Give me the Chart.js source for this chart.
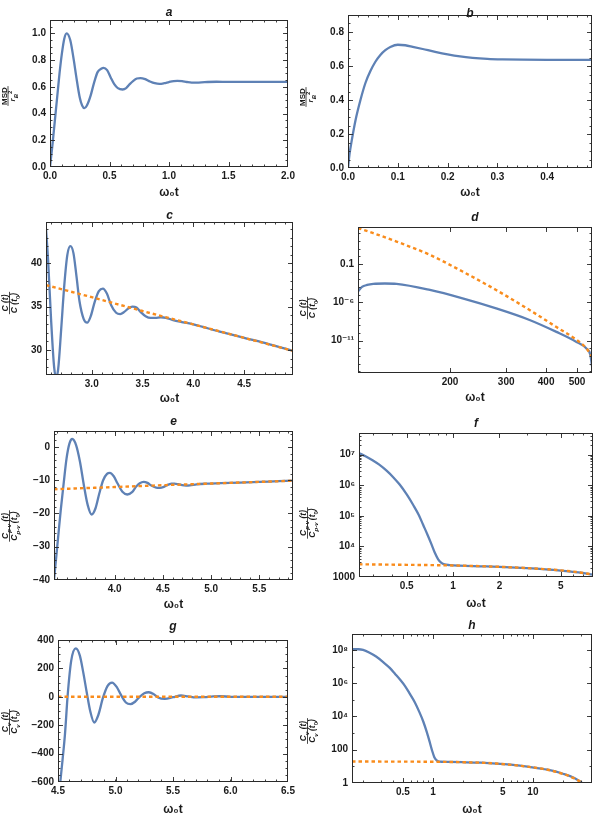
<!DOCTYPE html>
<html>
<head>
<meta charset="utf-8">
<script src="https://cdn.jsdelivr.net/npm/chart.js@4.4.1/dist/chart.umd.min.js"></script>
<style>
  html, body { margin: 0; padding: 0; background: #fff; }
  #fig { position: relative; width: 596px; height: 819px; overflow: hidden; }
  #fig canvas { position: absolute; }
</style>
</head>
<body>
<div id="fig"></div>
<script>
// ---- Data ----
// a: MSD, long range
const aT   = [0, 0.02, 0.04, 0.06, 0.08, 0.10, 0.12, 0.14, 0.17, 0.20, 0.22, 0.25, 0.27, 0.29, 0.31, 0.34, 0.37, 0.40, 0.43, 0.45, 0.48, 0.51, 0.54, 0.57, 0.61, 0.64, 0.67, 0.70, 0.73, 0.76, 0.80, 0.84, 0.88, 0.92, 0.96, 1.00, 1.04, 1.07, 1.11, 1.15, 1.19, 1.23, 1.30, 1.40, 1.50, 1.70, 2.00];
const aMsd = [0, 0.16, 0.34, 0.52, 0.70, 0.85, 0.96, 1.00, 0.95, 0.80, 0.68, 0.52, 0.46, 0.44, 0.46, 0.53, 0.63, 0.71, 0.735, 0.742, 0.725, 0.67, 0.62, 0.59, 0.58, 0.59, 0.62, 0.645, 0.662, 0.665, 0.657, 0.64, 0.627, 0.622, 0.627, 0.636, 0.643, 0.645, 0.642, 0.636, 0.632, 0.632, 0.635, 0.638, 0.637, 0.637, 0.637];

// b: MSD, overdamped
const bT   = [0, 0.003, 0.008, 0.015, 0.025, 0.035, 0.045, 0.055, 0.065, 0.075, 0.085, 0.1, 0.115, 0.13, 0.15, 0.175, 0.2, 0.225, 0.25, 0.28, 0.31, 0.35, 0.4, 0.45, 0.49];
const bMsd = [0, 0.08, 0.17, 0.28, 0.4, 0.5, 0.57, 0.625, 0.665, 0.693, 0.712, 0.725, 0.722, 0.713, 0.7, 0.683, 0.668, 0.656, 0.648, 0.642, 0.639, 0.637, 0.636, 0.636, 0.636];

// c: C(t)/C(t0) + asymptote
const cT    = [2.55, 2.57, 2.6, 2.63, 2.65, 2.67, 2.7, 2.73, 2.76, 2.79, 2.82, 2.85, 2.88, 2.92, 2.955, 2.99, 3.03, 3.07, 3.11, 3.15, 3.19, 3.24, 3.28, 3.32, 3.36, 3.4, 3.44, 3.48, 3.53, 3.58, 3.63, 3.68, 3.73, 3.8, 3.9, 4.0, 4.25, 4.5, 4.75, 4.98];
const cC    = [44, 40.5, 33.5, 28, 26.8, 27.8, 32.5, 37.5, 41, 42, 41.2, 38.5, 35.6, 33.6, 33.15, 33.9, 35.6, 36.8, 37.1, 36.5, 35.2, 34.3, 34.15, 34.4, 34.8, 35.0, 34.9, 34.4, 33.9, 33.7, 33.72, 33.78, 33.72, 33.45, 33.2, 32.95, 32.15, 31.4, 30.65, 29.9];
const cFitT = [2.55, 3.0, 3.5, 4.0, 4.5, 4.98];
const cFit  = [37.5, 36.1, 34.5, 32.95, 31.4, 29.9];

// d: C(t)/C(t0), log-log
const dT    = [103, 106, 110, 115, 125, 136, 173, 219, 279, 355, 431, 498, 535, 550, 557];
const dC    = [2.5e-5, 1e-4, 1.8e-4, 2.5e-4, 2.8e-4, 2.5e-4, 4e-5, 3.2e-6, 1.6e-7, 5e-9, 1.4e-10, 7e-12, 1e-12, 1.6e-13, 5e-15];
const dFitT = [103, 115, 136, 173, 219, 279, 355, 431, 498, 535, 557];
const dFit  = [4.5e3, 1e3, 80, 1.5, 1e-2, 4e-5, 1e-7, 6e-10, 1.3e-11, 1e-12, 8e-14];

// e: C_{p-v}(t)/C_{p-v}(t0)
const eT    = [3.37, 3.39, 3.41, 3.44, 3.47, 3.50, 3.53, 3.56, 3.60, 3.64, 3.68, 3.72, 3.76, 3.80, 3.84, 3.88, 3.92, 3.95, 3.99, 4.03, 4.08, 4.13, 4.18, 4.22, 4.26, 4.30, 4.34, 4.38, 4.43, 4.47, 4.51, 4.55, 4.59, 4.62, 4.66, 4.70, 4.74, 4.78, 4.85, 4.95, 5.10, 5.30, 5.50, 5.70, 5.85];
const eC    = [-40, -34, -28, -19, -11, -3.5, 1, 2.4, 0.5, -4.5, -11.5, -17.5, -20.3, -18.5, -14, -10, -8.1, -7.8, -8.8, -11, -13.5, -14.3, -13.6, -12, -10.9, -10.5, -10.8, -11.6, -12.2, -12.3, -12.0, -11.4, -11.05, -11.0, -11.2, -11.5, -11.6, -11.55, -11.25, -11.05, -10.9, -10.7, -10.5, -10.3, -10.15];
const eFitT = [3.37, 4.0, 4.5, 5.0, 5.5, 5.85];
const eFit  = [-12.7, -12.05, -11.5, -11.0, -10.5, -10.15];

// f: C_{p-v}, log-log
const fT    = [0.245, 0.27, 0.3, 0.33, 0.37, 0.41, 0.45, 0.5, 0.55, 0.6, 0.64, 0.68, 0.72, 0.76, 0.8, 0.84, 0.88, 0.95, 1.1, 1.5, 2, 3, 4, 5, 6.5, 8.1];
const fC    = [1.12e7, 8.9e6, 6.6e6, 4.8e6, 3e6, 1.8e6, 1.05e6, 5e5, 2.3e5, 1.05e5, 5e4, 2.5e4, 1.26e4, 6.3e3, 3.8e3, 2.9e3, 2.57e3, 2.45e3, 2.35e3, 2.24e3, 2.14e3, 1.95e3, 1.78e3, 1.62e3, 1.41e3, 1.2e3];
const fFitT = [0.245, 0.5, 1, 2, 3, 5, 6.5, 8.1];
const fFit  = [2.6e3, 2.5e3, 2.38e3, 2.15e3, 1.96e3, 1.65e3, 1.43e3, 1.2e3];

// g: C_v(t)/C_v(t0)
const gT    = [4.51, 4.52, 4.54, 4.56, 4.585, 4.615, 4.655, 4.69, 4.72, 4.75, 4.78, 4.815, 4.85, 4.89, 4.93, 4.97, 5.01, 5.05, 5.09, 5.13, 5.17, 5.21, 5.25, 5.29, 5.33, 5.37, 5.43, 5.5, 5.57, 5.63, 5.7, 5.77, 5.85, 5.92, 6.0, 6.2, 6.5];
const gC    = [-680, -600, -440, -270, 20, 255, 341, 290, 170, 30, -100, -181, -130, -10, 75, 100, 70, 10, -40, -52, -35, 0, 25, 32, 20, -5, -15, -3, 9, 3, -4, -3, 3, 4, 0, 0, 0];
const gFitT = [4.5, 5.5, 6.5];
const gFit  = [0, 0, 0];

// h: C_v, log-log
const hT    = [0.155, 0.18, 0.2, 0.23, 0.27, 0.32, 0.37, 0.42, 0.47, 0.53, 0.59, 0.66, 0.73, 0.8, 0.87, 0.93, 0.98, 1.03, 1.08, 1.13, 1.2, 1.4, 2, 3, 4.3, 6, 9.2, 14, 20, 26, 31, 34];
const hC    = [1.1e8, 1.1e8, 1e8, 7e7, 4e7, 1.8e7, 8.3e6, 3.5e6, 1.6e6, 6.3e5, 2.2e5, 7e4, 1.9e4, 5e3, 1.1e3, 280, 90, 37, 24, 20, 19, 18.6, 17.8, 16.6, 14.8, 12.6, 9.3, 6.3, 3.6, 2, 1, 0.63];
const hFitT = [0.155, 0.5, 1, 2, 4.3, 9.2, 14, 20, 26, 31, 36];
const hFit  = [19.5, 19.3, 18.9, 17.8, 14.8, 9.3, 6.3, 3.5, 1.9, 1.05, 0.6];

// ---- Tick values / labels ----
const aXTicks = [0, 0.5, 1, 1.5, 2],          aXLabels = ['0.0', '0.5', '1.0', '1.5', '2.0'];
const aYTicks = [0, 0.2, 0.4, 0.6, 0.8, 1.0], aYLabels = ['0.0', '0.2', '0.4', '0.6', '0.8', '1.0'];
const bXTicks = [0, 0.1, 0.2, 0.3, 0.4],      bXLabels = ['0.0', '0.1', '0.2', '0.3', '0.4'];
const bYTicks = [0, 0.2, 0.4, 0.6, 0.8],      bYLabels = ['0.0', '0.2', '0.4', '0.6', '0.8'];
const cXTicks = [3, 3.5, 4, 4.5],             cXLabels = ['3.0', '3.5', '4.0', '4.5'];
const cYTicks = [30, 35, 40],                 cYLabels = ['30', '35', '40'];
const dXTicks = [200, 300, 400, 500],         dXLabels = ['200', '300', '400', '500'];
const dYTicks = [0.1, 1e-6, 1e-11],           dYLabels = ['0.1', '10⁻⁶', '10⁻¹¹'];
const eXTicks = [4, 4.5, 5, 5.5],             eXLabels = ['4.0', '4.5', '5.0', '5.5'];
const eYTicks = [0, -10, -20, -30, -40],      eYLabels = ['0', '−10', '−20', '−30', '−40'];
const fXTicks = [0.5, 1, 2, 5],               fXLabels = ['0.5', '1', '2', '5'];
const fYTicks = [1e3, 1e4, 1e5, 1e6, 1e7],    fYLabels = ['1000', '10⁴', '10⁵', '10⁶', '10⁷'];
const gXTicks = [4.5, 5, 5.5, 6, 6.5],        gXLabels = ['4.5', '5.0', '5.5', '6.0', '6.5'];
const gYTicks = [400, 200, 0, -200, -400, -600], gYLabels = ['400', '200', '0', '−200', '−400', '−600'];
const hXTicks = [0.5, 1, 5, 10],              hXLabels = ['0.5', '1', '5', '10'];
const hYTicks = [1, 100, 1e4, 1e6, 1e8],      hYLabels = ['1', '100', '10⁴', '10⁶', '10⁸'];

// ---- Style ----
const BLUE   = '#5e81b5';
const ORANGE = '#f98c1c';
const INK    = '#1a1a1a';
const FRAME  = '#2a2a2a';
const FONT   = '"Liberation Sans", Arial, "DejaVu Sans", sans-serif';
const ROWS   = [0, 205, 410, 615, 819];

// y-axis fraction labels
const lblMSD = { num: [{ t: 'MSD' }], den: [{ t: 'r', it: 1 }, { t: 'B', sub: 1, it: 1 }, { t: '2', sup: 1 }], size: 8 };
const lblC   = { num: [{ t: 'C (t)', it: 1 }], den: [{ t: 'C (t', it: 1 }, { t: '0', sub: 1 }, { t: ')', it: 1 }], size: 8.5 };
const lblCpv = { num: [{ t: 'C', it: 1 }, { t: 'p-v', sub: 1, it: 1 }, { t: ' (t)', it: 1 }],
                 den: [{ t: 'C', it: 1 }, { t: 'p-v', sub: 1, it: 1 }, { t: ' (t', it: 1 }, { t: '0', sub: 1 }, { t: ')', it: 1 }], size: 8.5 };
const lblCv  = { num: [{ t: 'C', it: 1 }, { t: 'v', sub: 1, it: 1 }, { t: ' (t)', it: 1 }],
                 den: [{ t: 'C', it: 1 }, { t: 'v', sub: 1, it: 1 }, { t: ' (t', it: 1 }, { t: '0', sub: 1 }, { t: ')', it: 1 }], size: 8.5 };

const panels = [
  { letter: 'a', col: 0, row: 0, box: { L: 50, R: 288, T: 20, B: 167 }, titleY: 13, xTitleY: 193, lab: lblMSD, labPos: [8, 96],
    x: { type: 'linear', min: 0, max: 2, ticks: aXTicks, labels: aXLabels, minor: 0.1 },
    y: { type: 'linear', min: 0, max: 1.1, ticks: aYTicks, labels: aYLabels, minor: 0.05 },
    series: [{ x: aT, y: aMsd }] },
  { letter: 'b', col: 1, row: 0, box: { L: 348, R: 592, T: 15, B: 168 }, titleY: 14, xTitleY: 193, lab: lblMSD, labPos: [306, 97],
    x: { type: 'linear', min: 0, max: 0.49, ticks: bXTicks, labels: bXLabels, minor: 0.02 },
    y: { type: 'linear', min: 0, max: 0.9, ticks: bYTicks, labels: bYLabels, minor: 0.05 },
    series: [{ x: bT, y: bMsd }] },
  { letter: 'c', col: 0, row: 1, box: { L: 46, R: 293, T: 222, B: 375 }, titleY: 216, xTitleY: 399, lab: lblC, labPos: [9.5, 303],
    x: { type: 'linear', min: 2.55, max: 4.98, ticks: cXTicks, labels: cXLabels, minor: 0.1 },
    y: { type: 'linear', min: 27.1, max: 44.8, ticks: cYTicks, labels: cYLabels, minor: 1 },
    series: [{ x: cFitT, y: cFit, dashed: true }, { x: cT, y: cC }] },
  { letter: 'd', col: 1, row: 1, box: { L: 358, R: 592, T: 227, B: 373 }, titleY: 218, xTitleY: 398, lab: lblC, labPos: [307.5, 308],
    x: { type: 'logarithmic', min: 103, max: 557, ticks: dXTicks, labels: dXLabels, minor: 'log' },
    y: { type: 'logarithmic', min: 6.3e-16, max: 6.3e3, ticks: dYTicks, labels: dYLabels, minor: 'decade' },
    series: [{ x: dFitT, y: dFit, dashed: true }, { x: dT, y: dC }] },
  { letter: 'e', col: 0, row: 2, box: { L: 54, R: 293, T: 431, B: 580 }, titleY: 422, xTitleY: 605, lab: lblCpv, labPos: [9.5, 526],
    x: { type: 'linear', min: 3.37, max: 5.85, ticks: eXTicks, labels: eXLabels, minor: 0.1 },
    y: { type: 'linear', min: -40, max: 4.8, ticks: eYTicks, labels: eYLabels, minor: 2 },
    series: [{ x: eFitT, y: eFit, dashed: true }, { x: eT, y: eC }] },
  { letter: 'f', col: 1, row: 2, box: { L: 359, R: 593, T: 433, B: 577 }, titleY: 424, xTitleY: 604, lab: lblCpv, labPos: [307.5, 523],
    x: { type: 'logarithmic', min: 0.245, max: 8.1, ticks: fXTicks, labels: fXLabels, minor: 'log' },
    y: { type: 'logarithmic', min: 1000, max: 5.1e7, ticks: fYTicks, labels: fYLabels, minor: 'log' },
    series: [{ x: fFitT, y: fFit, dashed: true }, { x: fT, y: fC }] },
  { letter: 'g', col: 0, row: 3, box: { L: 58, R: 288, T: 640, B: 782 }, titleY: 627, xTitleY: 810, lab: lblCv, labPos: [9.5, 722],
    x: { type: 'linear', min: 4.5, max: 6.5, ticks: gXTicks, labels: gXLabels, minor: 0.1 },
    y: { type: 'linear', min: -600, max: 400, ticks: gYTicks, labels: gYLabels, minor: 50 },
    series: [{ x: gFitT, y: gFit, dashed: true }, { x: gT, y: gC }] },
  { letter: 'h', col: 1, row: 3, box: { L: 352, R: 592, T: 634, B: 783 }, titleY: 626, xTitleY: 810, lab: lblCv, labPos: [307.5, 731],
    x: { type: 'logarithmic', min: 0.155, max: 39, ticks: hXTicks, labels: hXLabels, minor: 'log' },
    y: { type: 'logarithmic', min: 1, max: 9.1e8, ticks: hYTicks, labels: hYLabels, minor: 'decade' },
    series: [{ x: hFitT, y: hFit, dashed: true }, { x: hT, y: hC }] },
];

// ---- helpers ----
function minorValues(ax) {
  const out = [];
  if (ax.minor === 'log' || ax.minor === 'decade') {
    const d0 = Math.floor(Math.log10(ax.min)), d1 = Math.ceil(Math.log10(ax.max));
    for (let d = d0; d <= d1; d++) {
      const ms = ax.minor === 'log' ? [1, 2, 3, 4, 5, 6, 7, 8, 9] : [1];
      ms.forEach(m => { const v = m * Math.pow(10, d); if (v >= ax.min && v <= ax.max) out.push(v); });
    }
  } else {
    const st = ax.minor;
    for (let v = Math.ceil(ax.min / st - 1e-9) * st; v <= ax.max + 1e-9; v += st) out.push(v);
  }
  return out;
}

function runFont(r, size) {
  const s = (r.sub || r.sup) ? Math.round(size * 0.72) : size;
  return (r.it ? 'italic ' : '') + 'bold ' + s + 'px ' + FONT;
}
function runsWidth(ctx, runs, size) {
  return runs.reduce((w, r) => { ctx.font = runFont(r, size); return w + ctx.measureText(r.t).width; }, 0);
}
function drawRuns(ctx, runs, x, y, size) {
  let cx = x;
  runs.forEach(r => {
    ctx.font = runFont(r, size);
    const dy = r.sub ? size * 0.3 : r.sup ? -size * 0.42 : 0;
    ctx.fillText(r.t, cx, y + dy);
    cx += ctx.measureText(r.t).width;
  });
}
function drawFraction(ctx, lab, cx, cy) {
  const size = lab.size;
  ctx.save();
  ctx.translate(cx, cy);
  ctx.rotate(-Math.PI / 2);
  ctx.fillStyle = INK;
  ctx.textBaseline = 'alphabetic';
  ctx.textAlign = 'left';
  const wN = runsWidth(ctx, lab.num, size), wD = runsWidth(ctx, lab.den, size);
  const w = Math.max(wN, wD) + 2;
  drawRuns(ctx, lab.num, -wN / 2, -1.4, size);
  drawRuns(ctx, lab.den, -wD / 2, size * 0.72 + 1.4, size);
  ctx.strokeStyle = INK;
  ctx.lineWidth = 0.8;
  ctx.beginPath(); ctx.moveTo(-w / 2, 0); ctx.lineTo(w / 2, 0); ctx.stroke();
  ctx.restore();
}

// ---- build panels ----
const fig = document.getElementById('fig');

function makePanel(p) {
  const colLeft = p.col * 298;
  const rowTop = ROWS[p.row];
  const rowH = ROWS[p.row + 1] - rowTop;
  const cv = document.createElement('canvas');
  cv.width = 298; cv.height = rowH;
  cv.style.left = colLeft + 'px'; cv.style.top = rowTop + 'px';
  fig.appendChild(cv);

  const tickFont = { family: FONT, size: 10, weight: 'bold' };
  const xTitlePad = rowH - 7.2 - (p.xTitleY - rowTop);

  const framePlugin = {
    id: 'frame-' + p.letter,
    afterDatasetsDraw(chart) {
      const { ctx, chartArea: { left, right, top, bottom }, scales: { x, y } } = chart;
      ctx.save();
      ctx.strokeStyle = FRAME;
      ctx.lineWidth = 1;
      ctx.strokeRect(left + 0.5, top + 0.5, right - left - 1, bottom - top - 1);
      ctx.lineWidth = 0.9;
      ctx.beginPath();
      const xt = (v, len) => {
        const px = Math.round(x.getPixelForValue(v)) + 0.5;
        if (px < left || px > right) return;
        ctx.moveTo(px, bottom); ctx.lineTo(px, bottom - len);
        ctx.moveTo(px, top); ctx.lineTo(px, top + len);
      };
      const yt = (v, len) => {
        const py = Math.round(y.getPixelForValue(v)) + 0.5;
        if (py < top || py > bottom) return;
        ctx.moveTo(left, py); ctx.lineTo(left + len, py);
        ctx.moveTo(right, py); ctx.lineTo(right - len, py);
      };
      minorValues(p.x).forEach(v => xt(v, 2.5));
      minorValues(p.y).forEach(v => yt(v, 2.5));
      p.x.ticks.forEach(v => xt(v, 5));
      p.y.ticks.forEach(v => yt(v, 5));
      ctx.stroke();
      ctx.restore();
    },
    afterDraw(chart) {
      const { ctx, chartArea: { left, right } } = chart;
      ctx.save();
      ctx.fillStyle = INK;
      ctx.font = 'italic bold 12px ' + FONT;
      ctx.textAlign = 'center';
      ctx.textBaseline = 'middle';
      ctx.fillText(p.letter, (left + right) / 2, p.titleY - rowTop);
      ctx.restore();
      drawFraction(ctx, p.lab, p.labPos[0] - colLeft, p.labPos[1] - rowTop);
    }
  };

  new Chart(cv, {
    type: 'line',
    data: {
      datasets: p.series.map(s => ({
        data: s.x.map((xv, i) => ({ x: xv, y: s.y[i] })),
        borderColor: s.dashed ? ORANGE : BLUE,
        borderWidth: s.dashed ? 2.4 : 2.3,
        borderDash: s.dashed ? [3.5, 3] : [],
        pointRadius: 0,
        fill: false,
        cubicInterpolationMode: 'monotone',
      }))
    },
    options: {
      responsive: false,
      animation: false,
      layout: { padding: { left: 0, top: p.box.T - rowTop, right: colLeft + 298 - p.box.R, bottom: 0 } },
      plugins: { legend: { display: false }, tooltip: { enabled: false } },
      scales: {
        x: {
          type: p.x.type, min: p.x.min, max: p.x.max,
          grid: { display: false, drawTicks: false },
          border: { display: false },
          afterBuildTicks: s => { s.ticks = p.x.ticks.map(v => ({ value: v })); },
          afterFit: s => { s.height = rowTop + rowH - p.box.B; },
          ticks: { autoSkip: false, maxRotation: 0, padding: 3, color: INK, font: tickFont,
                   callback: (v, i) => p.x.labels[i] },
          title: { display: true, text: 'ω₀t', color: INK,
                   font: { family: FONT, size: 12, weight: 'bold' }, padding: { top: 0, bottom: xTitlePad } }
        },
        y: {
          type: p.y.type, min: p.y.min, max: p.y.max,
          grid: { display: false, drawTicks: false },
          border: { display: false },
          afterBuildTicks: s => { s.ticks = p.y.ticks.map(v => ({ value: v })); },
          afterFit: s => { s.width = p.box.L - colLeft; },
          ticks: { autoSkip: false, padding: 4, color: INK, font: tickFont,
                   callback: (v, i) => p.y.labels[i] }
        }
      }
    },
    plugins: [framePlugin]
  });
}

panels.forEach(makePanel);
</script>
</body>
</html>
